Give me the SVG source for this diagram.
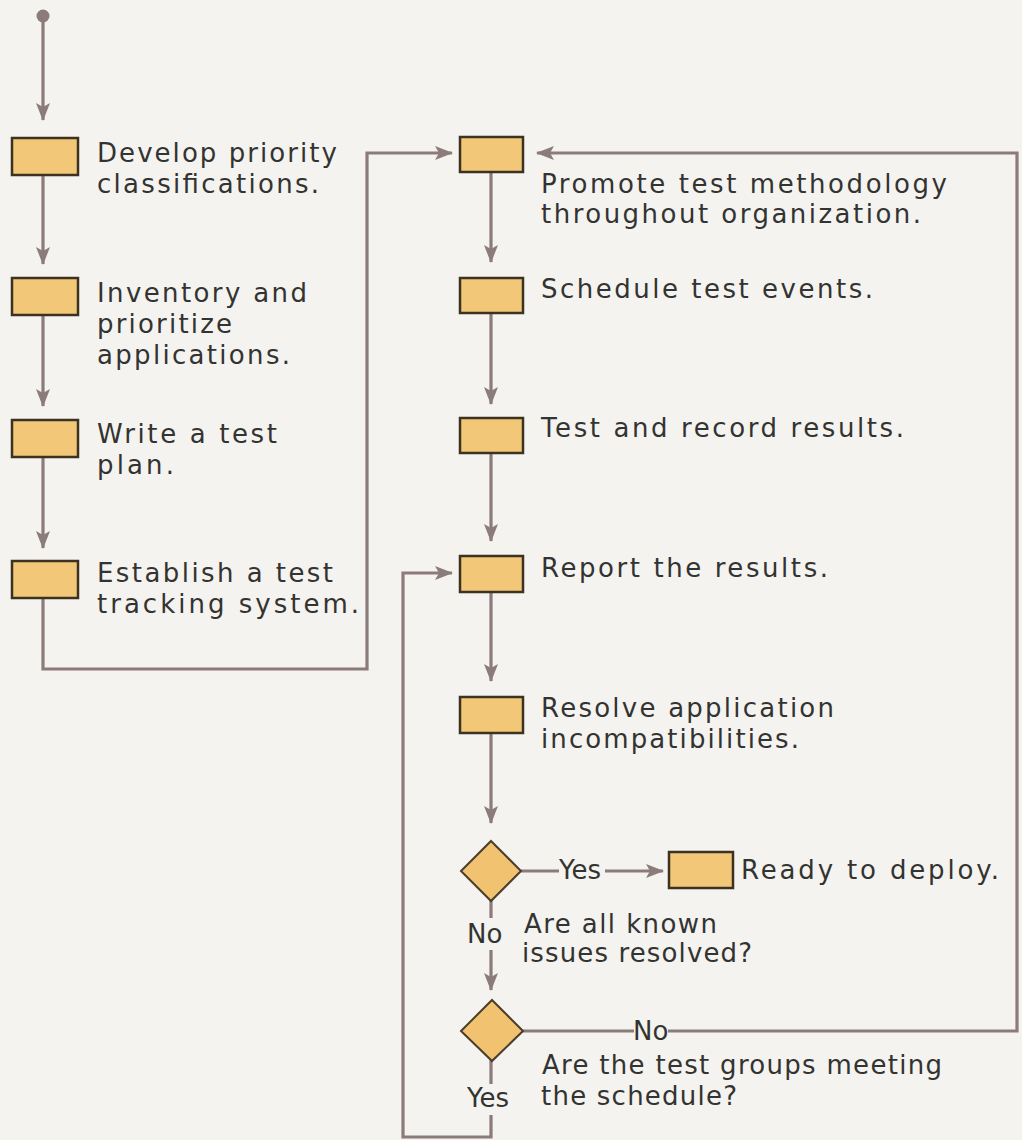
<svg xmlns="http://www.w3.org/2000/svg" width="1022" height="1140" viewBox="0 0 1022 1140">
<defs>
<style>
.bg{fill:#f4f3f0}
.box{fill:#f3c778;stroke:#3b3221;stroke-width:2.5}
.dia{fill:#f1c270;stroke:#4a3d2a;stroke-width:2}
.ln{fill:none;stroke:#8c7b7b;stroke-width:3.2}
.t{font-family:"DejaVu Sans",Verdana,sans-serif;font-size:26px;fill:#333331}
.q{font-family:"DejaVu Sans",Verdana,sans-serif;font-size:26px;fill:#333331}
</style>
<marker id="ah" markerUnits="userSpaceOnUse" markerWidth="18" markerHeight="14" refX="17" refY="7" orient="auto">
<path d="M0,0 L18,7 L0,14 L4,7 z" fill="#8c7b7b"/>
</marker>
</defs>
<rect class="bg" x="0" y="0" width="1022" height="1140"/>

<g id="connectors">
<circle cx="43" cy="16" r="6.5" fill="#8c7b7b"/>
<path class="ln" d="M43,16 V120" marker-end="url(#ah)"/>
<path class="ln" d="M43,175 V264" marker-end="url(#ah)"/>
<path class="ln" d="M43,315 V406" marker-end="url(#ah)"/>
<path class="ln" d="M43,457 V548" marker-end="url(#ah)"/>
<path class="ln" d="M43,598 V669 H367 V153 H452" marker-end="url(#ah)"/>
<path class="ln" d="M491,172 V262" marker-end="url(#ah)"/>
<path class="ln" d="M491,313 V404" marker-end="url(#ah)"/>
<path class="ln" d="M491,453 V541" marker-end="url(#ah)"/>
<path class="ln" d="M491,592 V681" marker-end="url(#ah)"/>
<path class="ln" d="M491,733 V823" marker-end="url(#ah)"/>
<path class="ln" d="M521,871 H559"/>
<path class="ln" d="M605,871 H663" marker-end="url(#ah)"/>
<path class="ln" d="M491,900 V918"/>
<path class="ln" d="M491,950 V990" marker-end="url(#ah)"/>
<path class="ln" d="M522,1031 H634"/>
<path class="ln" d="M668,1031 H1017 V153 H537" marker-end="url(#ah)"/>
<path class="ln" d="M491,1060 V1084"/>
<path class="ln" d="M491,1115 V1137 H403 V573 H452" marker-end="url(#ah)"/>
</g>

<g id="n1"><rect class="box" x="12" y="138" width="66" height="37"/>
<text class="t" x="97" y="162" textLength="240" lengthAdjust="spacing">Develop priority</text>
<text class="t" x="97" y="193" textLength="222" lengthAdjust="spacing">classifications.</text></g>

<g id="n2"><rect class="box" x="12" y="278" width="66" height="37"/>
<text class="t" x="97" y="302" textLength="210" lengthAdjust="spacing">Inventory and</text>
<text class="t" x="97" y="333" textLength="135" lengthAdjust="spacing">prioritize</text>
<text class="t" x="97" y="364" textLength="193" lengthAdjust="spacing">applications.</text></g>

<g id="n3"><rect class="box" x="12" y="420" width="66" height="37"/>
<text class="t" x="97" y="443" textLength="180" lengthAdjust="spacing">Write a test</text>
<text class="t" x="97" y="474" textLength="77" lengthAdjust="spacing">plan.</text></g>

<g id="n4"><rect class="box" x="12" y="561" width="66" height="37"/>
<text class="t" x="97" y="582" textLength="236" lengthAdjust="spacing">Establish a test</text>
<text class="t" x="97" y="613" textLength="262" lengthAdjust="spacing">tracking system.</text></g>

<g id="n5"><rect class="box" x="460" y="137" width="63" height="35"/>
<text class="t" x="541" y="193" textLength="406" lengthAdjust="spacing">Promote test methodology</text>
<text class="t" x="541" y="223" textLength="380" lengthAdjust="spacing">throughout organization.</text></g>

<g id="n6"><rect class="box" x="460" y="278" width="63" height="35"/>
<text class="t" x="541" y="298" textLength="332" lengthAdjust="spacing">Schedule test events.</text></g>

<g id="n7"><rect class="box" x="460" y="418" width="63" height="35"/>
<text class="t" x="541" y="437" textLength="363" lengthAdjust="spacing">Test and record results.</text></g>

<g id="n8"><rect class="box" x="460" y="556" width="63" height="36"/>
<text class="t" x="541" y="577" textLength="287" lengthAdjust="spacing">Report the results.</text></g>

<g id="n9"><rect class="box" x="460" y="697" width="63" height="36"/>
<text class="t" x="541" y="717" textLength="293" lengthAdjust="spacing">Resolve application</text>
<text class="t" x="541" y="748" textLength="258" lengthAdjust="spacing">incompatibilities.</text></g>

<g id="d1"><path class="dia" d="M491,841 L521,871 L491,901 L461,871 z"/>
<text class="q" x="559" y="879">Yes</text>
<text class="q" x="467" y="943">No</text>
<text class="q" x="524" y="933" textLength="193" lengthAdjust="spacing">Are all known</text>
<text class="q" x="522" y="962" textLength="230" lengthAdjust="spacing">issues resolved?</text></g>

<g id="n10"><rect class="box" x="669" y="852" width="64" height="36"/>
<text class="t" x="741" y="879" textLength="258" lengthAdjust="spacing">Ready to deploy.</text></g>

<g id="d2"><path class="dia" d="M492,1000 L523,1031 L492,1061 L461,1031 z"/>
<text class="q" x="633" y="1040">No</text>
<text class="q" x="542" y="1074" textLength="400" lengthAdjust="spacing">Are the test groups meeting</text>
<text class="q" x="541" y="1105" textLength="196" lengthAdjust="spacing">the schedule?</text>
<text class="q" x="467" y="1107">Yes</text></g>
</svg>
